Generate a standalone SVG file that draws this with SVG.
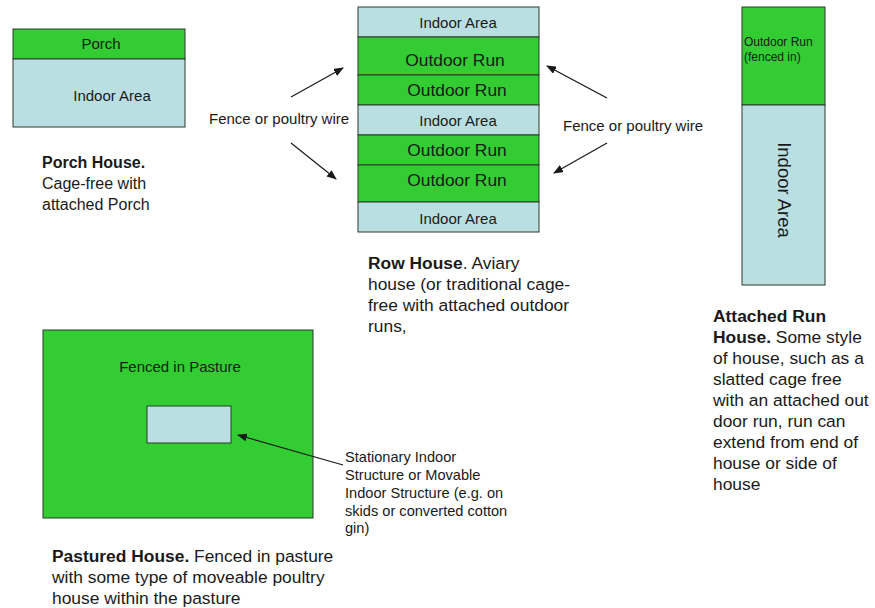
<svg xmlns="http://www.w3.org/2000/svg" width="875" height="608" viewBox="0 0 875 608">
<style>
.g{fill:#33cc33;stroke:#2d3b2d;stroke-width:1}
.b{fill:#b9dfe2;stroke:#2d3b2d;stroke-width:1}
text{font-family:"Liberation Sans",Arial,sans-serif;fill:#1a1a1a}
.lb{font-size:15px;text-anchor:middle}
.or{font-size:17.4px;text-anchor:middle}
.cap{font-size:16px}
.cap2{font-size:17.4px}
.bd{font-weight:bold}
.sm{font-size:14.6px}
.fw{font-size:15px}
.conn line{stroke:#1a1a1a;stroke-width:1.2;marker-end:url(#ah)}
</style>
<defs>
<marker id="ah" markerWidth="10" markerHeight="8" refX="9" refY="4" orient="auto" markerUnits="userSpaceOnUse">
<path d="M0,0 L10,4 L0,8 z" fill="#1a1a1a"/>
</marker>
</defs>
<rect width="875" height="608" fill="#fff"/>
<g id="porch-house">
<rect class="g" x="13" y="29" width="172" height="30"/>
<rect class="b" x="13" y="59" width="172" height="68"/>
<text class="lb" x="101" y="49">Porch</text>
<text class="lb" x="112" y="101">Indoor Area</text>
<text class="cap" x="42" y="168"><tspan class="bd">Porch House.</tspan></text>
<text class="cap" x="42" y="189">Cage-free with</text>
<text class="cap" x="42" y="210">attached Porch</text>
</g>
<g id="row-house">
<rect class="b" x="358" y="7" width="181" height="30"/>
<rect class="g" x="358" y="37" width="181" height="38"/>
<rect class="g" x="358" y="75" width="181" height="30"/>
<rect class="b" x="358" y="105" width="181" height="30"/>
<rect class="g" x="358" y="135" width="181" height="30"/>
<rect class="g" x="358" y="165" width="181" height="37"/>
<rect class="b" x="358" y="202" width="181" height="30"/>
<text class="lb" x="458" y="28">Indoor Area</text>
<text class="or" x="455" y="66">Outdoor Run</text>
<text class="or" x="457" y="96">Outdoor Run</text>
<text class="lb" x="458" y="126">Indoor Area</text>
<text class="or" x="457" y="156">Outdoor Run</text>
<text class="or" x="457" y="186">Outdoor Run</text>
<text class="lb" x="458" y="224">Indoor Area</text>
<text class="cap2" x="368" y="269"><tspan class="bd">Row House</tspan>.  Aviary</text>
<text class="cap2" x="368" y="290">house (or traditional cage-</text>
<text class="cap2" x="368" y="311">free with attached outdoor</text>
<text class="cap2" x="368" y="332">runs,</text>
</g>
<g id="fence-label-left">
<text class="fw" x="209" y="124">Fence or poultry  wire</text>
</g>
<g id="fence-label-right">
<text class="fw" x="563" y="131">Fence or poultry  wire</text>
</g>
<g id="attached-run-house">
<rect class="g" x="742" y="7" width="83" height="98"/>
<rect class="b" x="742" y="105" width="83" height="180"/>
<text font-size="12" x="744" y="46">Outdoor Run</text>
<text font-size="12" x="744" y="61">(fenced in)</text>
<text font-size="18.5" text-anchor="middle" transform="translate(778,190) rotate(90)">Indoor Area</text>
<text class="cap2" x="713" y="322"><tspan class="bd">Attached Run</tspan></text>
<text class="cap2" x="713" y="343"><tspan class="bd">House.</tspan>  Some style</text>
<text class="cap2" x="713" y="364">of house, such as a</text>
<text class="cap2" x="713" y="385">slatted cage free</text>
<text class="cap2" x="713" y="406">with an attached out</text>
<text class="cap2" x="713" y="427">door run, run can</text>
<text class="cap2" x="713" y="448">extend from end of</text>
<text class="cap2" x="713" y="469">house or side of</text>
<text class="cap2" x="713" y="490">house</text>
</g>
<g id="pastured-house">
<rect class="g" x="43" y="330" width="270" height="188"/>
<rect class="b" x="147" y="406" width="84" height="37"/>
<text class="lb" x="180" y="372">Fenced in Pasture</text>
<text class="cap2" x="52" y="562"><tspan class="bd">Pastured House.</tspan>  Fenced in pasture</text>
<text class="cap2" x="52" y="583">with some type of moveable poultry</text>
<text class="cap2" x="52" y="604">house within the pasture</text>
</g>
<g id="structure-label">
<text class="sm" x="345" y="462">Stationary Indoor</text>
<text class="sm" x="345" y="480">Structure  or Movable</text>
<text class="sm" x="345" y="498">Indoor  Structure  (e.g. on</text>
<text class="sm" x="345" y="516">skids or converted  cotton</text>
<text class="sm" x="345" y="533">gin)</text>
</g>
<g class="conn" id="connectors">
<line x1="291" y1="97" x2="343" y2="68"/>
<line x1="291" y1="143" x2="336" y2="179"/>
<line x1="607" y1="98" x2="547" y2="66"/>
<line x1="607" y1="143" x2="554" y2="173"/>
<line x1="343" y1="465" x2="238" y2="435"/>
</g>
</svg>
